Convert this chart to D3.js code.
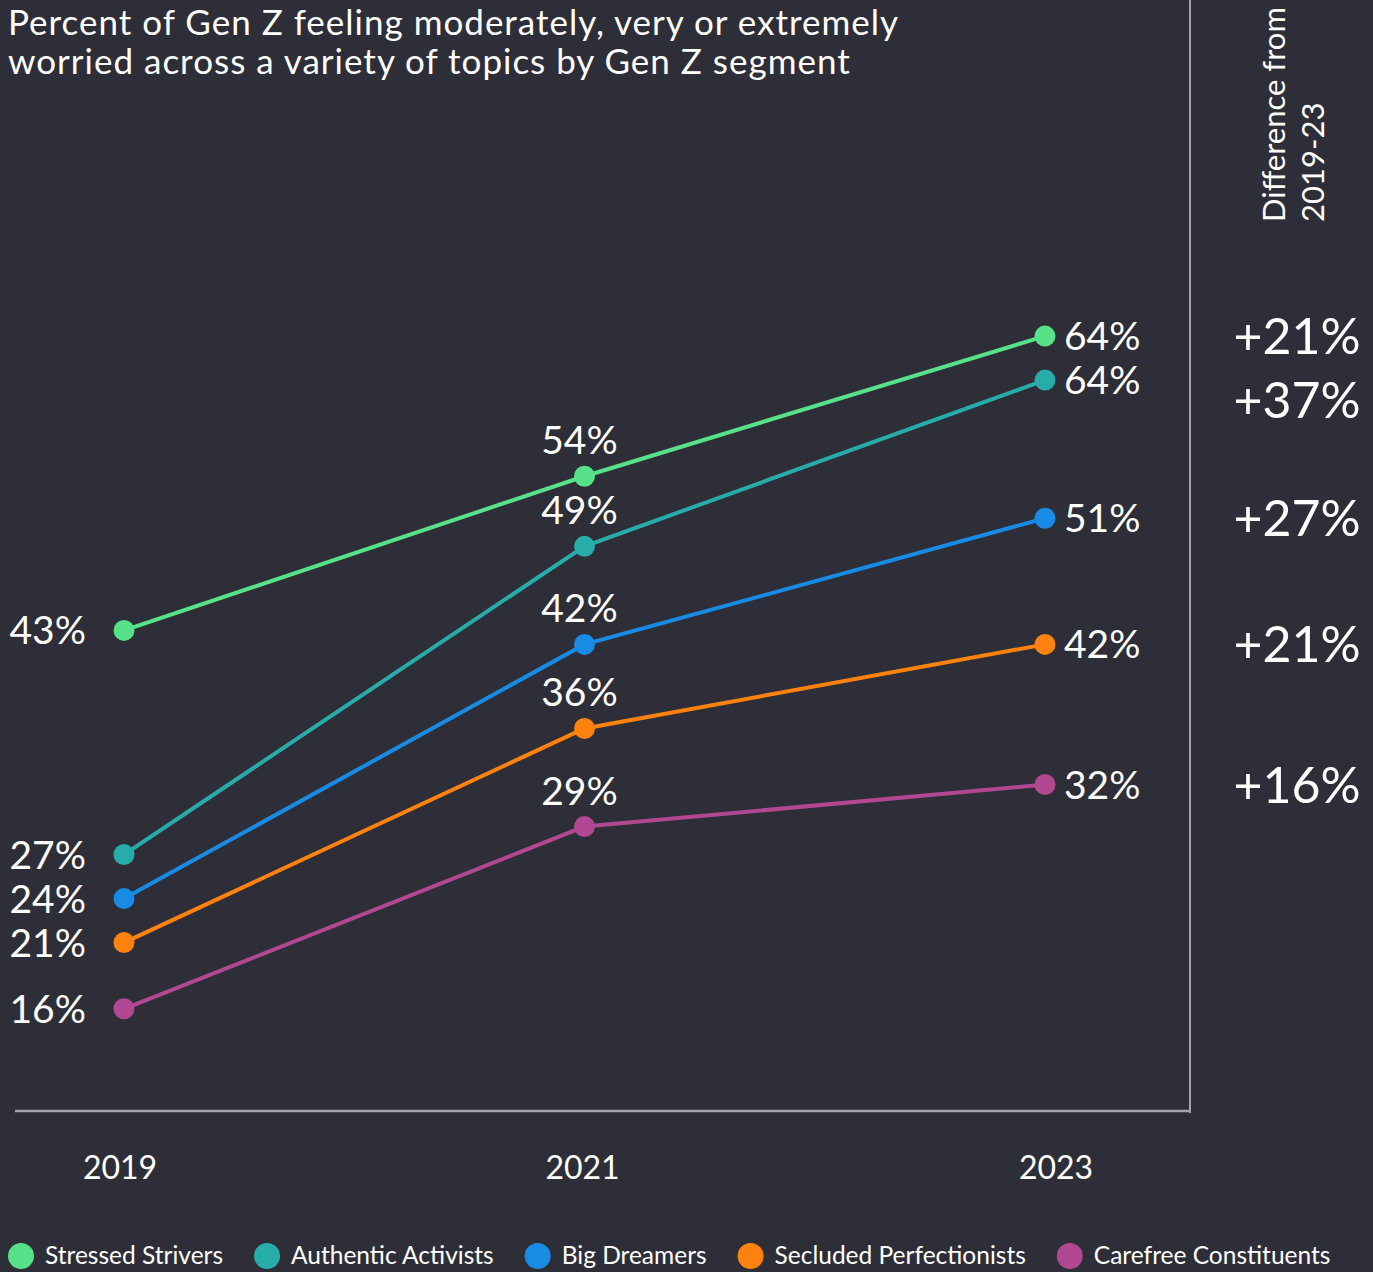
<!DOCTYPE html>
<html>
<head>
<meta charset="utf-8">
<script src="https://cdn.jsdelivr.net/npm/d3@7"></script>
<style>
	body { margin: 0; background: #2e2e38; }
	text { font-family: Lato, "Open Sans", sans-serif; fill: #ffffff; }
</style>
</head>
<body>
<div id="chart"></div>
<script>
// data
var years = ["2019", "2021", "2023"];
var segments = ["Stressed Strivers", "Authentic Activists", "Big Dreamers", "Secluded Perfectionists", "Carefree Constituents"];
var strivers = [43, 54, 64];
var activists = [27, 49, 64];
var dreamers = [24, 42, 51];
var perfectionists = [21, 36, 42];
var carefree = [16, 29, 32];
var colors = ["#57e188", "#27acaa", "#188ce5", "#ff820f", "#b14891"];

//push items down so consecutive ones keep at least gap apart
function dodge(items, key, gap){
	var order = items.map(function(p, i){ return i; })
				.sort(function(a, b){ return (items[a][key] - items[b][key]) || (a - b); });
	for (var k = 1; k < order.length; k++) {
		var prev = items[order[k-1]];
		var cur = items[order[k]];
		if (cur[key] - prev[key] < gap) {
			cur[key] = prev[key] + gap;
		}
	}
}

function init(){
	var w = 1373;
	var h = 1272;

	var allSeries = [strivers, activists, dreamers, perfectionists, carefree];

	var svg = d3.select("#chart")
				.append("svg")
				.attr("width", w)
				.attr("height", h);

	svg.append("rect")
		.attr("width", w)
		.attr("height", h)
		.attr("fill", "#2e2e38");

	var x = d3.scalePoint()
				.domain(years)
				.range([124, 1045]);

	var y = d3.scaleLinear()
				.domain([0, 70])
				.range([1233, 252]);

	//build point objects
	var series = segments.map(function(name, i){
		return {
			name: name,
			color: colors[i],
			points: allSeries[i].map(function(v, j){
				return {year: years[j], value: v, py: y(v)};
			})
		};
	});

	//dodge points that sit too close in the same year
	years.forEach(function(yr, j){
		dodge(series.map(function(s){ return s.points[j]; }), "py", 44);
	});

	//difference column, computed from the data, dodged on its own
	var diffs = series.map(function(s){
		var diff = s.points[2].value - s.points[0].value;
		return {text: (diff >= 0 ? "+" : "") + diff + "%", ty: y(s.points[2].value)};
	});
	dodge(diffs, "ty", 64);

	//frame
	svg.append("line")
		.attr("x1", 1190).attr("x2", 1190)
		.attr("y1", 0).attr("y2", 1113)
		.attr("stroke", "#a3a3ab")
		.attr("stroke-width", 2);
	svg.append("line")
		.attr("x1", 15).attr("x2", 1190)
		.attr("y1", 1111).attr("y2", 1111)
		.attr("stroke", "#a3a3ab")
		.attr("stroke-width", 2.5);

	//title
	var title = svg.append("text")
		.attr("x", 8)
		.attr("y", 35)
		.style("font-size", "35px")
		.style("letter-spacing", "1px");
	title.append("tspan").attr("x", 8).attr("dy", 0)
		.text("Percent of Gen Z feeling moderately, very or extremely");
	title.append("tspan").attr("x", 8).attr("dy", 39)
		.text("worried across a variety of topics by Gen Z segment");

	//rotated header
	var head = svg.append("text")
		.attr("transform", "translate(1285,222) rotate(-90)")
		.style("font-size", "31px");
	head.append("tspan").attr("x", 0).attr("y", 0).text("Difference from");
	head.append("tspan").attr("x", 0).attr("y", 39).text("2019-23");

	//lines
	var line = d3.line()
				.x(function(d){ return x(d.year); })
				.y(function(d){ return d.py; });

	svg.selectAll("path.series")
		.data(series)
		.enter()
		.append("path")
		.attr("class", "series")
		.attr("d", function(d){ return line(d.points); })
		.attr("fill", "none")
		.attr("stroke", function(d){ return d.color; })
		.attr("stroke-width", 4);

	//dots + labels
	var groups = svg.selectAll("g.series")
		.data(series)
		.enter()
		.append("g")
		.attr("class", "series");

	groups.selectAll("circle")
		.data(function(d){ return d.points.map(function(p){ return {p: p, color: d.color}; }); })
		.enter()
		.append("circle")
		.attr("cx", function(d){ return x(d.p.year); })
		.attr("cy", function(d){ return d.p.py; })
		.attr("r", 10.5)
		.attr("fill", function(d){ return d.color; });

	groups.selectAll("text.val")
		.data(function(d){ return d.points; })
		.enter()
		.append("text")
		.attr("class", "val")
		.style("font-size", "39px")
		.attr("text-anchor", function(d, j){ return j == 0 ? "end" : (j == 1 ? "middle" : "start"); })
		.attr("x", function(d, j){
			if (j == 0) return x(d.year) - 38;
			if (j == 1) return x(d.year) - 5;
			return x(d.year) + 19;
		})
		.attr("y", function(d, j){
			if (j == 1) return d.py - 22;
			return d.py + 14;
		})
		.text(function(d){ return d.value + "%"; });

	svg.selectAll("text.diff")
		.data(diffs)
		.enter()
		.append("text")
		.attr("class", "diff")
		.attr("x", 1297)
		.attr("y", function(d){ return d.ty + 18; })
		.attr("text-anchor", "middle")
		.style("font-size", "50px")
		.text(function(d){ return d.text; });

	//year axis labels
	svg.selectAll("text.year")
		.data(years)
		.enter()
		.append("text")
		.attr("class", "year")
		.attr("x", function(d, i){ return x(d) + [-4, -2, 11][i]; })
		.attr("y", 1179)
		.attr("text-anchor", "middle")
		.style("font-size", "32px")
		.text(function(d){ return d; });

	//legend
	var lx = 8;
	series.forEach(function(s){
		svg.append("circle")
			.attr("cx", lx + 13)
			.attr("cy", 1256)
			.attr("r", 13)
			.attr("fill", s.color);
		var t = svg.append("text")
			.attr("x", lx + 37)
			.attr("y", 1264)
			.style("font-size", "24.5px")
			.text(s.name);
		lx = lx + 37 + t.node().getComputedTextLength() + 31;
	});
}

window.onload = init;
</script>
</body>
</html>
